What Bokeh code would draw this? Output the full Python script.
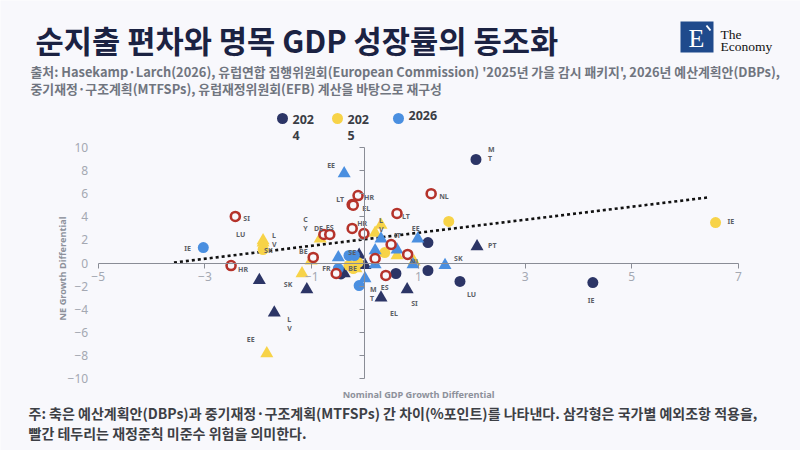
import math
from bokeh.plotting import figure
from bokeh.models import Range1d, LinearAxis, FixedTicker, ColumnDataSource
from bokeh.core.properties import value
from bokeh.embed import file_html
from bokeh.resources import INLINE

# ---------------- texts ----------------
TITLE = "순지출 편차와 명목 GDP 성장률의 동조화"
SUBTITLE = [
    "출처: Hasekamp·Larch(2026), 유럽연합 집행위원회(European Commission) '2025년 가을 감시 패키지', 2026년 예산계획안(DBPs),",
    "중기재정·구조계획(MTFSPs), 유럽재정위원회(EFB) 계산을 바탕으로 재구성",
]
NOTE = [
    "주: 축은 예산계획안(DBPs)과 중기재정·구조계획(MTFSPs) 간 차이(%포인트)를 나타낸다. 삼각형은 국가별 예외조항 적용을,",
    "빨간 테두리는 재정준칙 미준수 위험을 의미한다.",
]
X_TITLE = "Nominal GDP Growth Differential"
Y_TITLE = "NE Growth Differential"
X_TICKS = [-5, -3, -1, 1, 3, 5, 7]
Y_TICKS = [-10, -8, -6, -4, -2, 0, 2, 4, 6, 8, 10]
LEGEND_LABELS = ["202\n4", "202\n5", "2026"]

# ---------------- data ----------------
S24C_X = [2.08, 1.18, 1.18, 1.78, 4.27, 0.58, -0.45]
S24C_Y = [8.96, 1.77, -0.65, -1.60, -1.69, -0.91, -0.95]
S24C_L = ["M\nT", "", "", "LU", "IE", "", ""]

S24T_X = [2.10, 0.79, 0.30, -1.98, -1.09, -1.70, 0.00, -0.11, -0.39]
S24T_Y = [1.43, -2.30, -3.00, -1.50, -2.30, -4.30, -0.20, 0.70, -0.90]
S24T_L = ["PT", "SI", "EL", "", "SK", "L\nV", "", "", ""]

S25C_X = [6.57, 1.57, 0.37, -1.91, -0.13, -0.22, -0.30]
S25C_Y = [3.50, 3.60, 0.90, 1.17, 0.04, -0.48, -0.20]
S25C_L = ["IE", "", "", "SK", "", "BE", ""]

S25T_X = [-1.84, -1.18, -1.91, -1.91, -1.01, 0.30, 0.19, 0.60, -0.84, -0.17, 0.92]
S25T_Y = [-7.84, -0.90, 1.95, 1.75, 0.20, 3.30, 2.60, 0.65, 2.10, -0.48, 0.10]
S25T_L = ["EE", "", "L\nV", "LU", "BE", "L\nV", "", "", "C\nY", "", "NL"]

S26C_X = [-3.03, -0.11, -0.30, -0.20, -0.50]
S26C_Y = [1.34, -1.95, 0.65, 0.65, -0.48]
S26C_L = ["IE", "", "", "SE", ""]

S26T_X = [-0.39, 0.99, 1.50, 0.90, 0.30, 0.60, 0.19, -0.50, 0.00, 0.19]
S26T_Y = [7.75, 2.10, -0.20, -0.13, 2.10, 1.15, 1.08, 0.48, -1.35, -0.13]
S26T_L = ["EE", "EE", "SK", "", "", "", "", "", "M\nT", ""]

RISK_X = [-2.43, -2.51, 1.24, -0.13, -0.24, -0.22, 0.60, -0.77, -0.66, -0.24, -0.02, 0.49, 0.80, -0.97, 0.19, -0.54, 0.39]
RISK_Y = [4.03, -0.22, 6.00, 5.84, 5.06, 5.00, 4.29, 2.47, 2.47, 2.99, 2.55, 1.60, 0.74, 0.48, 0.39, -0.91, -1.08]
RISK_L = ["SI", "HR", "NL", "HR", "LT", "EL", "LT", "DE", "ES", "HR", "", "IT", "", "", "", "FR", "ES"]

TREND_X = [-3.58, 6.42]
TREND_Y = [0.04, 5.67]

# ---------------- label layout (px offsets of each label) ----------------
OFF = {
    "24c": [(12, -6), None, None, (7, 13), (-5, 18), None, None],
    "24t": [(11, -1), (4, 14), (9, 16), None, (-23, -5), (13, 11), None, None, None],
    "25c": [(12, -1), None, None, (1, 1), None, (-5, 0), None],
    "25t": [(-20, -14), None, (9, 0), (-27, -8), (-12, -9), (-2, 0), None, None, (-17, -15), None, (-4, 0)],
    "26c": [(-19, 1), None, None, (-6, -3), None],
    "26t": [(-17, -8), (-6, -10), (9, -7), None, None, None, None, None, (5, 15), None],
    "risk": [(8, 2), (7, 4), (8, 3), (6, 2), (-16, -5), (9, 3), (5, 3), (-10, -6), (-4, -7),
             (5, -5), None, (3, -9), None, None, None, (-14, -5), (-5, 12)],
}

# ---------------- styles ----------------
BG = "#f8f8fc"
NAVY = "#2c3566"
YELLOW = "#f7d348"
BLUE = "#4a8fe0"
RED = "#b5332b"
KR = value("Noto Sans CJK KR")
LAT = value("Noto Sans")

W, H = 800, 450
# frame covers the whole canvas; default ranges are page pixels
p = figure(width=W, height=H,
           x_range=Range1d(0, W), y_range=Range1d(H, 0),
           x_axis_type=None, y_axis_type=None,
           min_border=0, outline_line_color=None,
           background_fill_color=BG, border_fill_color=BG,
           output_backend="svg", toolbar_location=None)
p.xgrid.visible = False
p.ygrid.visible = False

# data ranges mapped onto the same frame
PX_PER_X = (738.0 - 97.7) / 12.0
PX_PER_Y = (378.0 - 147.0) / 20.0
p.extra_x_ranges = {"dx": Range1d(-5 - 97.7 / PX_PER_X, 7 + (W - 738.0) / PX_PER_X)}
p.extra_y_ranges = {"dy": Range1d(-10 - (H - 378.0) / PX_PER_Y, 10 + 147.0 / PX_PER_Y)}
D = dict(x_range_name="dx", y_range_name="dy")

# ---- axes ----
xax = LinearAxis(fixed_location=0, ticker=FixedTicker(ticks=X_TICKS), bounds=(-5, 7), **D)
xax.axis_line_color = "#8a8d96"
xax.major_tick_line_color = "#8a8d96"
xax.major_tick_out = 5
xax.major_tick_in = 0
xax.minor_tick_line_color = None
xax.major_label_standoff = 4
xax.major_label_text_font = "Noto Sans"
xax.major_label_text_font_size = "12px"
xax.major_label_text_color = "#a4a8b2"
p.add_layout(xax, "below")

yline = LinearAxis(fixed_location=0, ticker=FixedTicker(ticks=Y_TICKS), bounds=(-10, 10), **D)
yline.axis_line_color = "#8a8d96"
yline.major_tick_line_color = "#8a8d96"
yline.major_tick_out = 5
yline.major_tick_in = 0
yline.minor_tick_line_color = None
yline.major_label_overrides = {t: "" for t in Y_TICKS}
p.add_layout(yline, "left")

ylab = LinearAxis(fixed_location=-5, ticker=FixedTicker(ticks=Y_TICKS), bounds=(-10, 10), **D)
ylab.axis_line_color = None
ylab.major_tick_line_color = None
ylab.minor_tick_line_color = None
ylab.major_tick_out = 0
ylab.major_tick_in = 0
ylab.major_label_standoff = 10
ylab.major_label_text_font = "Noto Sans"
ylab.major_label_text_font_size = "12px"
ylab.major_label_text_color = "#a4a8b2"
p.add_layout(ylab, "left")

# ---- trend line ----
p.line(TREND_X, TREND_Y, line_color="#111111", line_width=2.6, line_dash="3 3", **D)

# ---- points ----
p.scatter(S24C_X, S24C_Y, marker="circle", size=11, fill_color=NAVY, line_color=None, **D)
p.scatter(S24T_X, S24T_Y, marker="triangle", size=13, fill_color=NAVY, line_color=None, **D)
p.scatter(S25C_X, S25C_Y, marker="circle", size=11, fill_color=YELLOW, line_color=None, **D)
p.scatter(S25T_X, S25T_Y, marker="triangle", size=13, fill_color=YELLOW, line_color=None, **D)
p.scatter(S26C_X, S26C_Y, marker="circle", size=11, fill_color=BLUE, line_color=None, **D)
p.scatter(S26T_X, S26T_Y, marker="triangle", size=13, fill_color=BLUE, line_color=None, **D)
p.scatter(RISK_X, RISK_Y, marker="circle", size=9, fill_color=BG, line_color=RED, line_width=2.6, **D)

# ---- point labels ----
lx, ly, lt, lxo, lyo = [], [], [], [], []
for key, xs, ys, ls in [("24c", S24C_X, S24C_Y, S24C_L), ("24t", S24T_X, S24T_Y, S24T_L),
                        ("25c", S25C_X, S25C_Y, S25C_L), ("25t", S25T_X, S25T_Y, S25T_L),
                        ("26c", S26C_X, S26C_Y, S26C_L), ("26t", S26T_X, S26T_Y, S26T_L),
                        ("risk", RISK_X, RISK_Y, RISK_L)]:
    for i, (xv, yv, lab) in enumerate(zip(xs, ys, ls)):
        if lab and OFF[key][i] is not None:
            lx.append(xv); ly.append(yv); lt.append(lab)
            lxo.append(OFF[key][i][0]); lyo.append(OFF[key][i][1])
lsrc = ColumnDataSource(dict(x=lx, y=ly, text=lt, xo=lxo, yo=lyo))
p.text(x="x", y="y", text="text", x_offset="xo", y_offset="yo", source=lsrc,
       text_font=LAT, text_font_size="7px", text_font_style="bold",
       text_color="#5c5f66", text_baseline="middle", text_align="left",
       text_line_height=1.0, **D)

# ---- manual legend (page coordinates) ----
LEG_COLORS = [NAVY, YELLOW, BLUE]
LEG_X = [282, 337, 398]
p.scatter(LEG_X, [118] * 3, marker="circle", size=11, fill_color=LEG_COLORS, line_color=None)
p.text([x + 10 for x in LEG_X], [110] * 3, text=LEGEND_LABELS, text_font=LAT,
       text_font_size="12.5px", text_font_style="bold", text_color="#3a3d45",
       text_baseline="top", text_align="left", text_line_height=0.95)

# ---- title / subtitle / notes / axis titles ----
p.text([35], [39], text=[TITLE], text_font=KR, text_font_size="30.7px", text_font_style="bold",
       text_color="#1b2242", text_baseline="middle", text_align="left")
p.text([30, 30], [71, 88], text=SUBTITLE, text_font=KR, text_font_size="12.85px", text_font_style="bold",
       text_color="#70757f", text_baseline="middle", text_align="left")
p.text([28, 28], [412, 432], text=NOTE, text_font=KR, text_font_size="14px", text_font_style="bold",
       text_color="#3d3f45", text_baseline="middle", text_align="left")
p.text([418], [394], text=[X_TITLE], text_font=LAT, text_font_size="9.2px", text_font_style="bold",
       text_color="#8d919b", text_baseline="middle", text_align="center")
p.text([62], [268], text=[Y_TITLE], angle=math.pi / 2, text_font=LAT, text_font_size="9.2px",
       text_font_style="bold", text_color="#8d919b", text_baseline="middle", text_align="center")

# ---- logo ----
p.quad(left=[680], right=[713], top=[21], bottom=[52], fill_color="#1f4a8c", line_color=None)
p.text([696], [38], text=["E"], text_font=value("Liberation Serif"), text_font_size="26px",
       text_color="white", text_baseline="middle", text_align="center")
p.segment([706], [25], [710], [30], line_color="white", line_width=2)
p.text([720, 720], [34, 46], text=["The", "Economy"], text_font=value("Liberation Serif"),
       text_font_size="13.5px", text_color="#111111", text_baseline="middle", text_align="left")

open("out.html", "w").write(file_html(p, INLINE))
